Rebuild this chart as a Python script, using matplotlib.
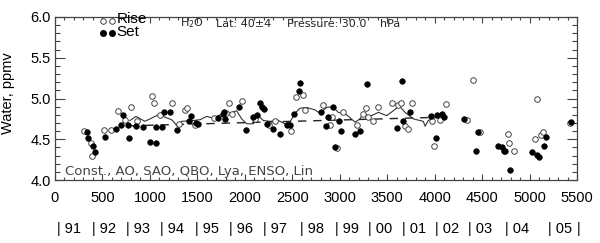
import numpy as np
import matplotlib
matplotlib.use('Agg')
import matplotlib.pyplot as plt
from matplotlib.ticker import MultipleLocator, FormatStrFormatter

# Sunrise occultations (open circles): day number, water vapour (ppmv)
rise_day = [309, 376, 390, 516, 590, 664, 741, 804, 867, 1022, 1040, 1103, 1236, 1310,
            1370, 1387, 1475, 1679, 1802, 1833, 1868, 1967, 2107, 2255, 2318, 2487, 2536,
            2610, 2634, 2827, 2897, 2915, 2968, 3037, 3185, 3248, 3273, 3295, 3354, 3407,
            3547, 3617, 3642, 3691, 3716, 3765, 3975, 3997, 4056, 4120, 4338, 4407, 4478,
            4770, 4787, 4839, 5057, 5075, 5124, 5141, 5426]
rise_h2o = [4.60, 4.45, 4.30, 4.61, 4.61, 4.85, 4.74, 4.89, 4.73, 5.03, 4.95, 4.80, 4.94, 4.69,
            4.86, 4.88, 4.67, 4.76, 4.82, 4.94, 4.81, 4.97, 4.75, 4.67, 4.73, 4.60, 5.02,
            5.04, 4.86, 4.92, 4.67, 4.77, 4.39, 4.84, 4.68, 4.81, 4.88, 4.77, 4.73, 4.90,
            4.94, 4.92, 4.94, 4.66, 4.63, 4.94, 4.72, 4.42, 4.74, 4.93, 4.74, 5.23, 4.59,
            4.57, 4.45, 4.36, 4.50, 5.00, 4.55, 4.59, 4.70]

# Sunset occultations (filled circles)
set_day = [337, 351, 404, 421, 527, 639, 699, 713, 766, 780, 853, 927, 997, 1061, 1067,
           1131, 1152, 1212, 1282, 1412, 1433, 1490, 1503, 1721, 1767, 1784, 1790, 1942,
           2009, 2083, 2132, 2160, 2184, 2205, 2234, 2294, 2374, 2441, 2476, 2518, 2575,
           2585, 2803, 2852, 2873, 2933, 2950, 2995, 3016, 3161, 3214, 3291, 3600, 3653,
           3670, 3740, 3958, 4011, 4028, 4074, 4098, 4312, 4432, 4453, 4671, 4713, 4731,
           4745, 4797, 5029, 5082, 5103, 5155, 5173, 5433]
set_h2o = [4.59, 4.51, 4.42, 4.34, 4.53, 4.62, 4.68, 4.80, 4.68, 4.52, 4.66, 4.65, 4.47, 4.65, 4.46,
           4.65, 4.84, 4.84, 4.61, 4.73, 4.78, 4.70, 4.69, 4.76, 4.81, 4.83, 4.75, 4.90,
           4.61, 4.77, 4.80, 4.95, 4.90, 4.87, 4.69, 4.63, 4.57, 4.67, 4.67, 4.81, 5.09,
           5.19, 4.83, 4.66, 4.77, 4.90, 4.40, 4.72, 4.60, 4.57, 4.60, 5.18, 4.64, 5.21,
           4.72, 4.83, 4.78, 4.51, 4.80, 4.81, 4.77, 4.75, 4.36, 4.59, 4.42, 4.40, 4.36,
           4.35, 4.12, 4.34, 4.31, 4.28, 4.42, 4.53, 4.71]

# regression fit (solid) and linear trend (dashed)
fit_day = [790, 853, 948, 1106, 1159, 1229, 1290, 1335, 1457, 1528, 1598, 1668, 1756, 1844,
           1914, 1967, 2020, 2090, 2142, 2195, 2265, 2353, 2423, 2476, 2529, 2581, 2652,
           2739, 2792, 2862, 2926, 2985, 3073, 3161, 3214, 3248, 3319, 3407, 3495, 3565,
           3628, 3688, 3775, 3880, 3900, 3933, 3986, 4056]
fit_h2o = [4.73, 4.78, 4.72, 4.81, 4.77, 4.74, 4.66, 4.72, 4.73, 4.74, 4.78, 4.76, 4.81, 4.82,
           4.85, 4.75, 4.69, 4.69, 4.79, 4.73, 4.72, 4.73, 4.69, 4.71, 4.82, 4.88, 4.89,
           4.86, 4.82, 4.89, 4.90, 4.83, 4.80, 4.71, 4.75, 4.82, 4.78, 4.83, 4.79, 4.85,
           4.91, 4.83, 4.75, 4.72, 4.66, 4.73, 4.76, 4.77]
trend_day = [790, 4060]
trend_h2o = [4.665, 4.77]

# year labels under the day axis
years = ['91', '92', '93', '94', '95', '96', '97', '98', '99', '00', '01', '02', '03', '04', '05']
year_day = [18, 387, 748, 1106, 1475, 1837, 2195, 2581, 2950, 3301, 3653, 4004, 4355, 4741, 5195]
end_day = 5497

plt.rcParams['font.family'] = ['Liberation Sans', 'DejaVu Sans']

fig = plt.figure(figsize=(6, 2.43), dpi=100)
ax = fig.add_axes([55 / 600, 1 - 180 / 243, 522 / 600, 163 / 243])

ax.plot(fit_day, fit_h2o, color='#333333', lw=0.8)
ax.plot(trend_day, trend_h2o, color='#222222', lw=1.0, dashes=(6, 5))
ax.plot(rise_day, rise_h2o, 'o', ms=4, mfc='white', mec='#444444', mew=0.7, ls='none')
ax.plot(set_day, set_h2o, 'o', ms=4, mfc='black', mec='black', mew=0.5, ls='none')

ax.set_xlim(0, 5500)
ax.set_ylim(4.0, 6.0)
ax.xaxis.set_major_locator(MultipleLocator(500))
ax.xaxis.set_minor_locator(MultipleLocator(100))
ax.yaxis.set_major_locator(MultipleLocator(0.5))
ax.yaxis.set_minor_locator(MultipleLocator(0.1))
ax.yaxis.set_major_formatter(FormatStrFormatter('%.1f'))
ax.tick_params(which='both', direction='in', top=True, right=True, color='#444444', width=0.8)
ax.tick_params(which='major', labelsize=10.5)
# IDL style: tick length scales with the perpendicular plot size
ax.tick_params(axis='x', which='major', length=4, pad=8)
ax.tick_params(axis='x', which='minor', length=2)
ax.tick_params(axis='y', which='major', length=7, pad=3)
ax.tick_params(axis='y', which='minor', length=3.5)
for sp in ax.spines.values():
    sp.set_color('#444444')
    sp.set_linewidth(0.9)

ax.set_ylabel('Water, ppmv', fontsize=10.5)
ax.yaxis.set_label_coords(-0.077, 0.53)

# legend, IDL style
ax.plot([0.091, 0.110], [0.976, 0.976], 'o', ms=4, mfc='white', mec='#444444', mew=0.7,
        transform=ax.transAxes, ls='none', clip_on=False)
ax.plot([0.091, 0.110], [0.899, 0.899], 'o', ms=4, mfc='black', mec='black',
        transform=ax.transAxes, ls='none', clip_on=False)
ax.text(0.118, 0.99, 'Rise', transform=ax.transAxes, fontsize=11, va='center')
ax.text(0.118, 0.91, 'Set', transform=ax.transAxes, fontsize=11, va='center')

small = dict(transform=ax.transAxes, fontsize=8, family='DejaVu Sans', color='#222222', va='center')
ax.text(0.239, 0.96, 'H$_2$O', **small)
ax.text(0.308, 0.96, 'Lat: 40±4', **small)
ax.text(0.444, 0.96, 'Pressure: 30.0', **small)
ax.text(0.623, 0.96, 'hPa', **small)

ax.text(0.019, 0.01, 'Const., AO, SAO, QBO, Lya, ENSO, Lin', transform=ax.transAxes,
        fontsize=9.5, family='DejaVu Sans', color='#444444', va='bottom')

trans = ax.get_xaxis_transform()
for yr, d in zip(years, year_day):
    ax.text(d, -0.3, '| ' + yr, transform=trans, fontsize=10.5, va='center', ha='left')
ax.text(end_day, -0.3, '|', transform=trans, fontsize=10.5, va='center', ha='left')

fig.savefig('out.png', dpi=100)
